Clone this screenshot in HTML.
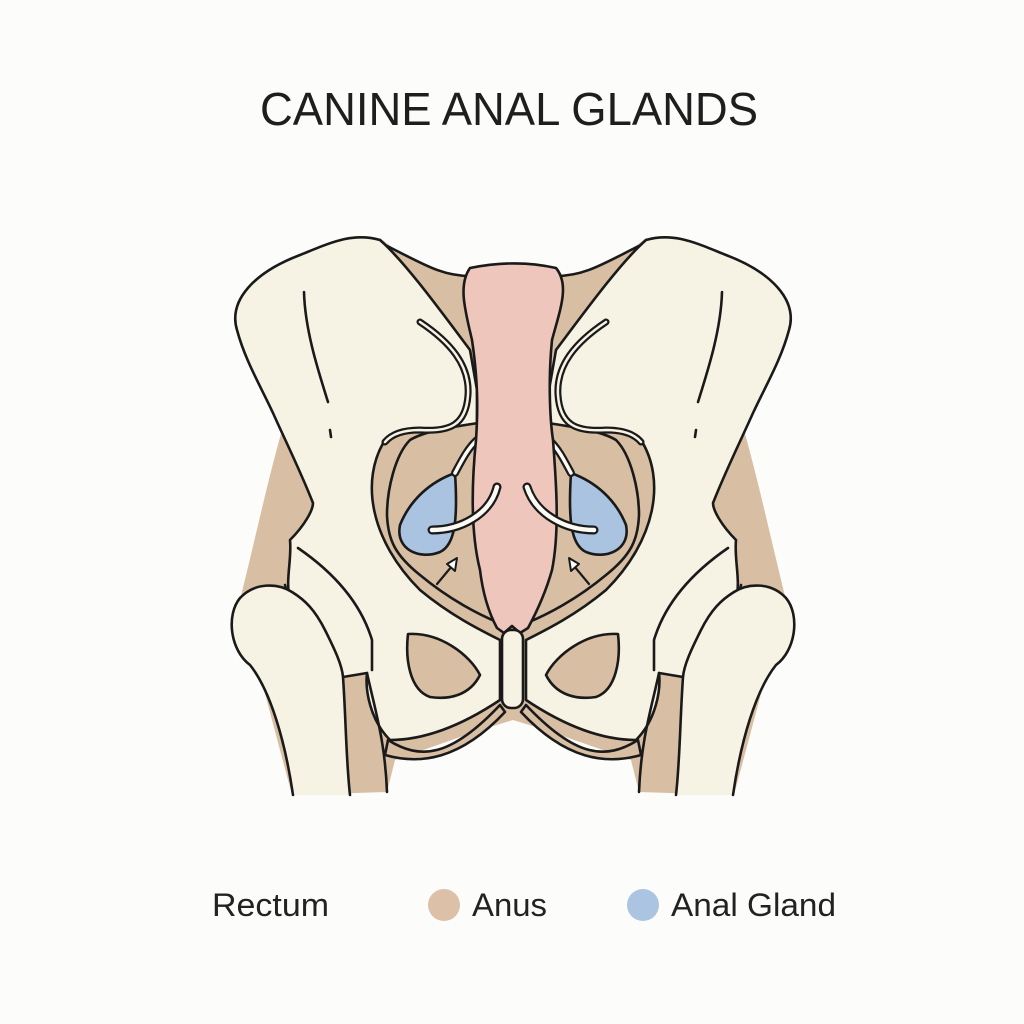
<!DOCTYPE html>
<html><head><meta charset="utf-8"><style>
html,body{margin:0;padding:0;background:#fcfcfa;}
svg{display:block}
</style></head><body>
<svg width="1024" height="1024" viewBox="0 0 1024 1024" xmlns="http://www.w3.org/2000/svg">
<rect width="1024" height="1024" fill="#fcfcfa"/>
<text x="509" y="125" text-anchor="middle" font-family="Liberation Sans, sans-serif" font-size="46" fill="#1e1e1e" textLength="498" lengthAdjust="spacingAndGlyphs">CANINE ANAL GLANDS</text>

<g stroke="#1a1a1a" stroke-width="2.6" stroke-linejoin="round" stroke-linecap="round">
<g id="half">
  <path d="M380,238 C410,262 440,276 470,276 L513,268 L513,720 L480,730 L395,760 L387,792 L292,795 L240,600 C255,540 270,470 285,420 Z" fill="#d8bea3" stroke="none"/>
  <path d="M385,245 C420,262 440,276 470,276" fill="none"/>
  <path d="M237,330 C228,300 255,272 300,255 C330,243 352,232 380,240 C405,262 440,310 470,350 L477,390 L477,430 C440,430 400,425 385,440 C360,480 370,540 420,590 C450,615 480,630 500,640 L500,700 C470,720 430,740 390,740 C370,720 365,690 367,673 L343,677 C320,650 300,630 290,600 C285,580 292,560 290,540 C305,525 313,510 313,503 C300,470 285,440 273,413 C260,385 245,360 237,330 Z" fill="#f7f3e4"/>
  <path d="M410,440 C395,455 387,490 387,515 C388,540 395,555 420,575 C450,600 480,615 497,622 L497,420 C470,425 430,428 410,440 Z" fill="#d8bea3"/>
  <path d="M420,322 C450,342 470,365 468,395 C466,425 450,432 420,430 C400,430 390,436 385,442" fill="none" stroke="#1a1a1a" stroke-width="7"/>
  <path d="M420,322 C450,342 470,365 468,395 C466,425 450,432 420,430 C400,430 390,436 385,442" fill="none" stroke="#f7f3e4" stroke-width="2.5"/>
  <path d="M304,292 C305,330 318,370 328,402" fill="none"/>
  <path d="M330,430 L331,437" fill="none"/>
  <path d="M298,548 C330,570 360,600 372,640 L372,670" fill="none"/>
  <path d="M285,585 C290,610 305,620 325,632" fill="none"/>
  <path d="M388,740 C420,760 450,758 500,705 L505,712 C460,760 420,765 385,755 Z" fill="#d8bea3"/>
  <path d="M408,634 C440,632 470,655 480,675 C470,695 450,700 430,697 C410,690 405,660 408,634 Z" fill="#d8bea3"/>
  <path d="M293,795 C285,740 270,690 250,665 C230,650 226,615 240,598 C255,582 278,583 292,592 C305,600 315,610 325,630 C335,650 342,665 343,677 C346,720 346,760 350,795" fill="#f7f3e4"/>
  <path d="M367,673 C375,710 385,740 387,792" fill="none"/>
  <path d="M455,473 C430,482 410,500 400,525 C395,550 420,560 440,552 C455,545 458,520 455,473 Z" fill="#a9c3e0"/>
  <path d="M455,473 C462,460 468,448 477,440" fill="none" stroke-width="8"/>
  <path d="M455,473 C462,460 468,448 477,440" fill="none" stroke="#fbfaf4" stroke-width="3.5"/>
  <path d="M437,584 L452,566" fill="none" stroke-width="2.2"/>
  <path d="M457,558 L447,564 L455,571 Z" fill="#fff" stroke-width="2"/>
</g>
<use href="#half" transform="translate(1026,0) scale(-1,1)"/>

<path d="M470,268 C500,262 530,262 556,268 C570,285 560,310 552,340 C548,380 550,420 553,440 C556,480 560,530 552,570 C545,595 535,615 528,628 L520,633 L512,626 L504,633 L497,628 C490,615 483,595 480,570 C470,530 472,480 476,440 C478,410 478,380 472,340 C465,310 458,285 470,268 Z" fill="#efc6bc"/>
<rect x="502" y="630" width="21" height="78" rx="9" fill="#f7f3e4"/>
<g fill="none">
  <path d="M432,530 C460,530 490,515 497,487" stroke-width="9"/>
  <path d="M432,530 C460,530 490,515 497,487" stroke="#fbfaf4" stroke-width="4.5"/>
  <path d="M594,530 C566,530 536,515 527,487" stroke-width="9"/>
  <path d="M594,530 C566,530 536,515 527,487" stroke="#fbfaf4" stroke-width="4.5"/>
</g>
</g>

<g font-family="Liberation Sans, sans-serif" font-size="32" fill="#222">
<text x="212" y="916" textLength="117" lengthAdjust="spacingAndGlyphs">Rectum</text>
<circle cx="444" cy="905" r="16" fill="#dcc0a8"/>
<text x="472" y="916" textLength="75" lengthAdjust="spacingAndGlyphs">Anus</text>
<circle cx="643" cy="905" r="16" fill="#aac4e2"/>
<text x="671" y="916" textLength="165" lengthAdjust="spacingAndGlyphs">Anal Gland</text>
</g>
</svg>
</body></html>
